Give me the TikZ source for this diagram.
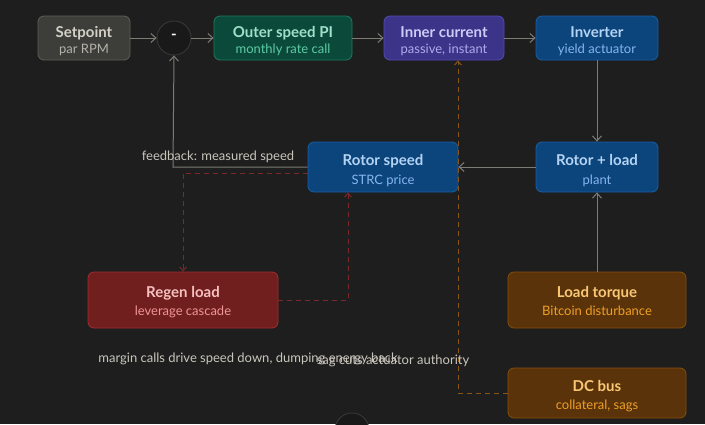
\documentclass[tikz,border=0pt]{standalone}
\usepackage{fontspec}
\setmainfont{Lato}
\usetikzlibrary{arrows.meta}
\definecolor{bg}{HTML}{1E1E1E}
\definecolor{edge}{HTML}{7C7B76}
\definecolor{lbl}{HTML}{C8C6BC}
\definecolor{gfill}{HTML}{3D3D3A}\definecolor{gdraw}{HTML}{5F5E5A}\definecolor{gt}{HTML}{D3D1C7}\definecolor{gs}{HTML}{B4B2A9}
\definecolor{tfill}{HTML}{0B4A3A}\definecolor{tdraw}{HTML}{1D7A5E}\definecolor{tt}{HTML}{9FE1CB}\definecolor{ts}{HTML}{5DCAA5}
\definecolor{pfill}{HTML}{3C3489}\definecolor{pdraw}{HTML}{534AB7}\definecolor{pt}{HTML}{CECBF6}\definecolor{ps}{HTML}{AFA9EC}
\definecolor{bfill}{HTML}{0C447C}\definecolor{bdraw}{HTML}{185FA5}\definecolor{bt}{HTML}{B5D4F4}\definecolor{bs}{HTML}{85B7EB}
\definecolor{rfill}{HTML}{701E1E}\definecolor{rdraw}{HTML}{A32D2D}\definecolor{rt}{HTML}{F7C1C1}\definecolor{rs}{HTML}{F09595}
\definecolor{afill}{HTML}{5A330A}\definecolor{adraw}{HTML}{854F0B}\definecolor{at}{HTML}{FAC775}\definecolor{as}{HTML}{EF9F27}
\definecolor{rdash}{HTML}{7A2828}\definecolor{adash}{HTML}{8A5416}
\definecolor{cfill}{HTML}{191919}\definecolor{cdraw}{HTML}{3A3A38}
\tikzset{
  box/.style={draw, rounded corners=6pt, line width=0.8pt, align=center, inner sep=0pt},
  ttl/.style={font=\bfseries\fontsize{15}{17}\selectfont},
  sub/.style={font=\fontsize{13}{15}\selectfont},
  conn/.style={draw=edge, line width=1pt, -{Straight Barb[length=5pt,width=9pt]}},
  rconn/.style={draw=rdash, line width=1pt, dash pattern=on 5pt off 4pt, -{Straight Barb[length=4pt,width=7pt]}},
  aconn/.style={draw=adash, line width=1pt, dash pattern=on 5pt off 4pt, -{Straight Barb[length=4pt,width=7pt]}},
  elbl/.style={text=lbl, font=\fontsize{13}{15}\selectfont},
  sumc/.style={circle, draw=cdraw, fill=cfill, line width=0.8pt, minimum size=34pt, inner sep=0pt},
}
\begin{document}
\begin{tikzpicture}[x=1pt,y=-1pt]
\fill[bg] (0,0) rectangle (705,424);
\useasboundingbox (0,0) rectangle (705,424);
\begin{scope}
\clip (0,0) rectangle (705,424);
% nodes
\node[box, fill=gfill, draw=gdraw, minimum width=92pt, minimum height=44pt] (set) at (84,38) {};
\node[ttl, text=gt, anchor=base] at (84,37) {Setpoint};
\node[sub, text=gs, anchor=base] at (84,53) {par RPM};

\node[sumc] (sum) at (174,38) {};
\node[text=white, font=\bfseries\fontsize{15}{17}\selectfont] at (174,37) {-};

\node[box, fill=tfill, draw=tdraw, minimum width=138pt, minimum height=44pt] (outer) at (283,38) {};
\node[ttl, text=tt, anchor=base] at (283,37) {Outer speed PI};
\node[sub, text=ts, anchor=base] at (283,53) {monthly rate call};

\node[box, fill=pfill, draw=pdraw, minimum width=120pt, minimum height=44pt] (inner) at (444,38) {};
\node[ttl, text=pt, anchor=base] at (444,37) {Inner current};
\node[sub, text=ps, anchor=base] at (444,53) {passive, instant};

\node[box, fill=bfill, draw=bdraw, minimum width=122pt, minimum height=44pt] (inv) at (597,38) {};
\node[ttl, text=bt, anchor=base] at (597,37) {Inverter};
\node[sub, text=bs, anchor=base] at (597,53) {yield actuator};

\node[box, fill=bfill, draw=bdraw, minimum width=150pt, minimum height=50pt] (rspeed) at (383,167) {};
\node[ttl, text=bt, anchor=base] at (383,165) {Rotor speed};
\node[sub, text=bs, anchor=base] at (383,184) {STRC price};

\node[box, fill=bfill, draw=bdraw, minimum width=122pt, minimum height=50pt] (rload) at (597,167) {};
\node[ttl, text=bt, anchor=base] at (597,165) {Rotor + load};
\node[sub, text=bs, anchor=base] at (597,184) {plant};

\node[box, fill=rfill, draw=rdraw, minimum width=190pt, minimum height=56pt] (regen) at (183,300) {};
\node[ttl, text=rt, anchor=base] at (183,297) {Regen load};
\node[sub, text=rs, anchor=base] at (183,315) {leverage cascade};

\node[box, fill=afill, draw=adraw, minimum width=178pt, minimum height=56pt] (torque) at (597,300) {};
\node[ttl, text=at, anchor=base] at (597,297) {Load torque};
\node[sub, text=as, anchor=base] at (597,315) {Bitcoin disturbance};

\node[box, fill=afill, draw=adraw, minimum width=178pt, minimum height=50pt] (dc) at (597,393) {};
\node[ttl, text=at, anchor=base] at (597,391) {DC bus};
\node[sub, text=as, anchor=base] at (597,409) {collateral, sags};

\node[sumc] (sum2) at (352,430) {};

% connectors
\draw[conn] (set) -- (sum);
\draw[conn] (sum) -- (outer);
\draw[conn] (outer) -- (inner);
\draw[conn] (inner) -- (inv);
\draw[conn] (inv) -- (rload);
\draw[conn] (rload) -- (rspeed);
\draw[conn] (torque) -- (rload);
\coordinate (fbc) at (173,167);
\draw[conn] (rspeed.west |- fbc) -- (fbc) -- (sum.south);
\node[elbl] (fbl) at (218,157) {feedback: measured speed};

\coordinate (r1) at (183,173);
\draw[rconn] (rspeed.west |- r1) -- (r1) -- (regen.north);
\coordinate (r2) at (348,300);
\draw[rconn] (regen.east |- r2) -- (r2) -- (r2 |- rspeed.south);
\node[elbl] (rlbl) at (248,359) {margin calls drive speed down, dumping energy back};

\coordinate (a1) at (458,393);
\draw[aconn] (dc.west |- a1) -- (a1) -- (a1 |- inner.south);
\node[elbl] (albl) at (393,361) {sag cuts actuator authority};
\end{scope}
\end{tikzpicture}
\end{document}
